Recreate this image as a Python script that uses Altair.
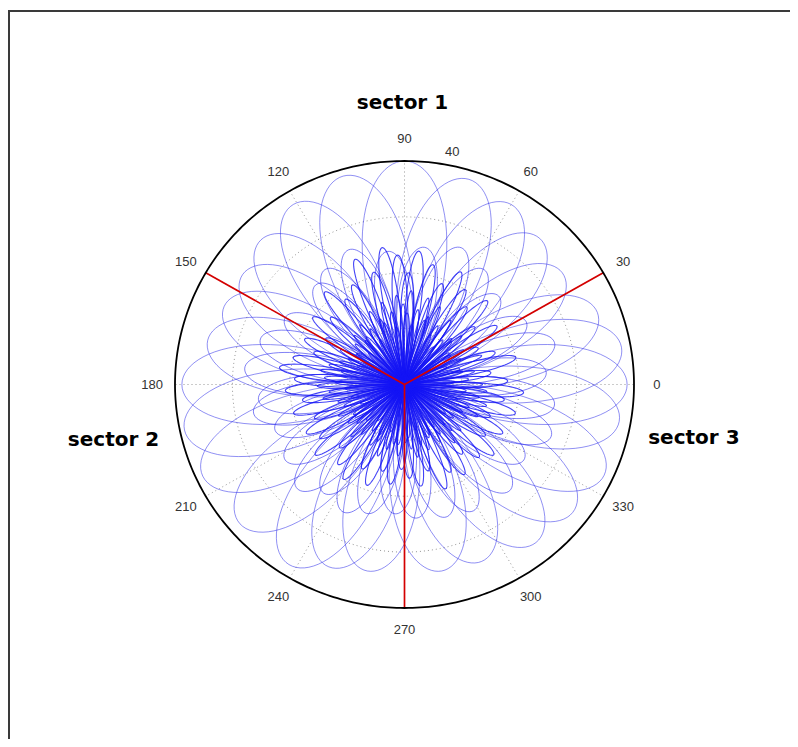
import math
import numpy as np
import pandas as pd
import altair as alt

# ---- lobe data: centre angle (deg) and peak radius ----
outer_angle = [350, 0, 10, 21, 36, 48, 60, 73, 90, 106, 121, 134, 145, 156, 167,
               180, 192, 205, 221, 238, 248, 259, 281, 293, 309, 322, 335]
outer_peak = [0.95, 0.97, 0.96, 0.90, 0.85, 0.88, 0.93, 0.96, 1.00, 0.97, 0.94, 0.90,
              0.86, 0.86, 0.88, 0.97, 0.98, 0.97, 0.95, 0.95, 0.88, 0.85, 0.85, 0.86,
              0.91, 0.93, 0.96]

mid_angle = [5, 16, 28, 44, 56, 68, 82, 97, 112, 124, 131, 150, 162, 174, 186,
             191, 200, 213, 225, 234, 245, 254, 266, 275, 287, 298, 314, 327, 340, 352]
mid_peak = [0.62, 0.68, 0.60, 0.57, 0.62, 0.66, 0.62, 0.60, 0.65, 0.62, 0.59, 0.60,
            0.66, 0.70, 0.64, 0.67, 0.60, 0.62, 0.66, 0.60, 0.63, 0.60, 0.58, 0.60,
            0.62, 0.64, 0.66, 0.62, 0.68, 0.66]

inner_angle = [2, 8, 14, 20, 27, 33, 40, 46, 52, 58, 64, 70, 77, 84, 88, 93, 99, 105,
               111, 117, 124, 130, 137, 143, 149, 155, 160, 166, 172, 177, 183, 189,
               195, 201, 207, 213, 219, 225, 231, 238, 244, 250, 256, 262, 268, 273,
               279, 285, 291, 297, 303, 309, 315, 321, 327, 333, 339, 345, 351, 356]
inner_peak = [0.45, 0.38, 0.50, 0.42, 0.36, 0.48, 0.40, 0.52, 0.44, 0.50, 0.56, 0.48,
              0.55, 0.60, 0.50, 0.58, 0.62, 0.52, 0.60, 0.50, 0.46, 0.54, 0.44, 0.50,
              0.40, 0.48, 0.42, 0.50, 0.55, 0.48, 0.52, 0.45, 0.50, 0.42, 0.48, 0.44,
              0.50, 0.40, 0.46, 0.50, 0.42, 0.48, 0.40, 0.45, 0.38, 0.42, 0.46, 0.40,
              0.50, 0.44, 0.48, 0.40, 0.46, 0.50, 0.42, 0.48, 0.40, 0.50, 0.44, 0.52]

core_angle = [0, 5, 11, 16, 21, 25, 31, 36, 41, 45, 50, 55, 61, 66, 71, 75, 80, 86,
              91, 95, 100, 105, 110, 115, 121, 126, 131, 135, 140, 146, 151, 155, 160,
              165, 170, 175, 181, 186, 190, 195, 200, 206, 211, 215, 220, 225, 230, 236,
              241, 245, 250, 255, 260, 265, 271, 276, 280, 285, 290, 296, 301, 305, 310,
              315, 320, 325, 331, 336, 340, 345, 350, 355]
core_peak = [0.34, 0.28, 0.31, 0.25, 0.36, 0.27, 0.30, 0.24, 0.33, 0.29, 0.26, 0.35,
             0.30, 0.38, 0.32, 0.40, 0.34, 0.42, 0.36, 0.40, 0.33, 0.38, 0.31, 0.36,
             0.29, 0.33, 0.26, 0.31, 0.28, 0.25, 0.32, 0.27, 0.30, 0.34, 0.37, 0.35,
             0.38, 0.33, 0.36, 0.30, 0.28, 0.32, 0.26, 0.30, 0.27, 0.33, 0.29, 0.25,
             0.31, 0.28, 0.34, 0.30, 0.27, 0.32, 0.26, 0.29, 0.33, 0.28, 0.31, 0.25,
             0.30, 0.27, 0.34, 0.29, 0.32, 0.26, 0.31, 0.35, 0.30, 0.37, 0.33, 0.36]

hub_angle = [3, 13, 23, 33, 43, 53, 63, 73, 83, 88, 98, 108, 118, 128, 138, 148, 158,
             168, 178, 184, 194, 204, 214, 224, 234, 244, 254, 264, 274, 284, 294, 304,
             314, 324, 334, 344, 354]
hub_peak = [0.22, 0.26, 0.20, 0.24, 0.28, 0.21, 0.25, 0.30, 0.27, 0.32, 0.26, 0.29,
            0.23, 0.27, 0.21, 0.25, 0.22, 0.28, 0.30, 0.26, 0.24, 0.21, 0.26, 0.23,
            0.20, 0.25, 0.22, 0.27, 0.24, 0.21, 0.26, 0.23, 0.25, 0.22, 0.28, 0.24, 0.27]

tier_k = {"outer": 3.0, "mid": 4.2, "inner": 10.0, "core": 15.0, "hub": 13.0}

tick_angle = [0, 30, 60, 90, 120, 150, 180, 210, 240, 270, 300, 330]
tick_text = ["0", "30", "60", "90", "120", "150", "180", "210", "240", "270", "300", "330"]
tick_radius = 1.1
extra_text = ["40"]
extra_angle = [78.7]
extra_radius = [1.06]

sector_text = ["sector 1", "sector 2", "sector 3"]
sector_x = [-0.009, -1.268, 1.261]
sector_y = [1.259, -0.248, -0.239]

divider_angle = [30, 150, 270]
ring_radius = [0.25, 0.5, 0.75]
spoke_angle = [0, 30, 60, 90, 120, 150, 180, 210, 240, 270, 300, 330]

rows = []
lid = 0
for tier, angs, peaks in (("outer", outer_angle, outer_peak),
                          ("mid", mid_angle, mid_peak),
                          ("inner", inner_angle, inner_peak),
                          ("core", core_angle, core_peak),
                          ("hub", hub_angle, hub_peak)):
    k = tier_k[tier]
    half = math.pi / (2 * k)
    for a, R in zip(angs, peaks):
        phi = math.radians(a)
        for i, t in enumerate(np.linspace(-half, half, 61)):
            r = R * math.cos(k * t)
            rows.append({"id": lid, "tier": tier, "i": i,
                         "x": r * math.cos(phi + t), "y": r * math.sin(phi + t)})
        lid += 1
lobes = pd.DataFrame(rows)

grid_rows = []
gid = 0
for rr in ring_radius:
    for i, t in enumerate(np.linspace(0, 2 * math.pi, 241)):
        grid_rows.append({"id": gid, "i": i, "x": rr * math.cos(t), "y": rr * math.sin(t)})
    gid += 1
for a in spoke_angle:
    p = math.radians(a)
    grid_rows.append({"id": gid, "i": 0, "x": 0.0, "y": 0.0})
    grid_rows.append({"id": gid, "i": 1, "x": math.cos(p), "y": math.sin(p)})
    gid += 1
grid = pd.DataFrame(grid_rows)

outer_rows = [{"i": i, "x": math.cos(t), "y": math.sin(t)}
              for i, t in enumerate(np.linspace(0, 2 * math.pi, 361))]
outer_circle = pd.DataFrame(outer_rows)

red_rows = []
for j, a in enumerate(divider_angle):
    p = math.radians(a)
    red_rows.append({"id": j, "i": 0, "x": 0.0, "y": 0.0})
    red_rows.append({"id": j, "i": 1, "x": math.cos(p), "y": math.sin(p)})
red = pd.DataFrame(red_rows)

lab_rows = []
for a, t in zip(tick_angle, tick_text):
    p = math.radians(a)
    lab_rows.append({"t": t, "x": tick_radius * math.cos(p), "y": tick_radius * math.sin(p)})
for a, t, rr in zip(extra_angle, extra_text, extra_radius):
    p = math.radians(a)
    lab_rows.append({"t": t, "x": rr * math.cos(p), "y": rr * math.sin(p)})
labels = pd.DataFrame(lab_rows)

sectors = pd.DataFrame({"t": sector_text, "x": sector_x, "y": sector_y})

xs = alt.Scale(domain=[-1.0, 1.0], range=[167, 626], nice=False, zero=False)
ys = alt.Scale(domain=[-1.0, 1.0], range=[600, 153], nice=False, zero=False)
X = alt.X("x:Q", scale=xs, axis=None)
Y = alt.Y("y:Q", scale=ys, axis=None)

# picture frame: only its left and top edges fall inside the picture (thin filled bars)
dummy = pd.DataFrame({"a": [0]})
frame_left = alt.Chart(dummy).mark_rect(color="#3a3a3a", strokeWidth=0).encode(
    x=alt.value(0), x2=alt.value(2), y=alt.value(2), y2=alt.value(731))
frame_top = alt.Chart(dummy).mark_rect(color="#3a3a3a", strokeWidth=0).encode(
    x=alt.value(0), x2=alt.value(782), y=alt.value(2), y2=alt.value(4))

grid_layer = alt.Chart(grid).mark_line(
    color="#8a8a8a", strokeWidth=0.9, strokeDash=[1, 3]
).encode(x=X, y=Y, detail="id:N", order="i:Q")

base = alt.Chart(lobes).encode(x=X, y=Y, detail="id:N", order="i:Q")
outer_layer = base.transform_filter(alt.datum.tier == "outer").mark_line(
    color="#3030e8", strokeWidth=0.9, opacity=0.6)
mid_layer = base.transform_filter(alt.datum.tier == "mid").mark_line(
    color="#2828ee", strokeWidth=0.9, opacity=0.65)
inner_layer = base.transform_filter(
    (alt.datum.tier == "inner") | (alt.datum.tier == "core") | (alt.datum.tier == "hub")
).mark_line(color="#1414f5", strokeWidth=1.1, opacity=0.8)

red_layer = alt.Chart(red).mark_line(
    color="#d40000", strokeWidth=1.7
).encode(x=X, y=Y, detail="id:N", order="i:Q")

circle_layer = alt.Chart(outer_circle).mark_line(
    color="#000000", strokeWidth=1.8
).encode(x=X, y=Y, order="i:Q")

label_layer = alt.Chart(labels).mark_text(
    font="Liberation Sans", fontSize=13, color="#333333", baseline="middle", align="center"
).encode(x=X, y=Y, text="t:N")

sector_layer = alt.Chart(sectors).mark_text(
    font="DejaVu Sans", fontSize=20, fontWeight="bold", color="#000000",
    baseline="middle", align="center"
).encode(x=X, y=Y, text="t:N")

chart = alt.layer(
    frame_left, frame_top, grid_layer, outer_layer, mid_layer, inner_layer,
    red_layer, circle_layer, label_layer, sector_layer
).properties(
    width=782, height=731,
    autosize=alt.AutoSizeParams(type="none"),
    padding=0,
    background="#ffffff",
).configure_view(stroke=None)

chart.save("out.html", embed_options={"renderer": "svg", "actions": False})
